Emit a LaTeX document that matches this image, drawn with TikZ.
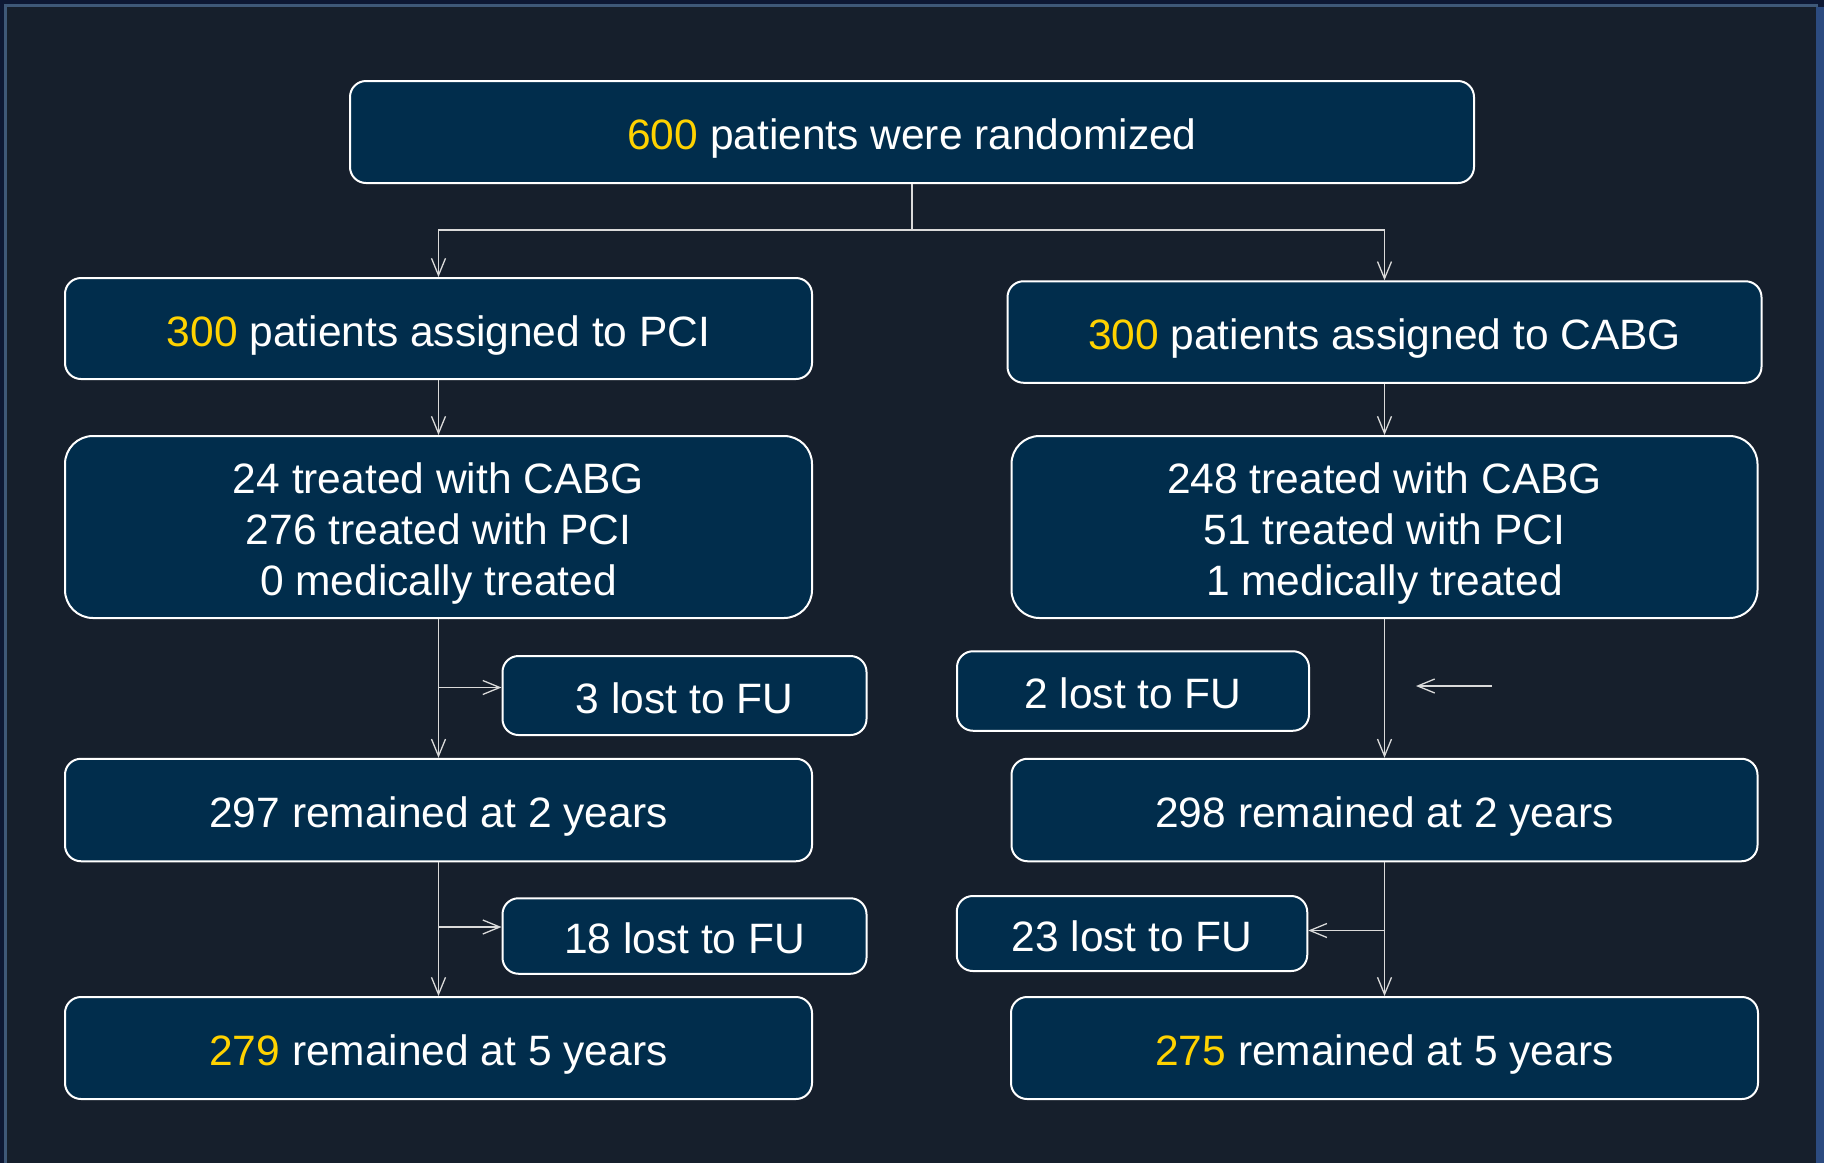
\documentclass[tikz,border=0pt]{standalone}
\usepackage{fontspec}
\setmainfont{Liberation Sans}
\usetikzlibrary{arrows.meta}

\definecolor{bgcol}{HTML}{161F2C}
\definecolor{boxcol}{HTML}{012D4C}
\definecolor{numcol}{HTML}{FFD200}
\definecolor{framelite}{HTML}{3E5878}
\definecolor{framedark}{HTML}{0D1834}
\definecolor{frameblue}{HTML}{2C4B80}
\definecolor{linecol}{HTML}{DADADA}

\newcommand{\yel}[1]{\textcolor{numcol}{#1}}
\newcommand{\topstrut}{\rule{0pt}{44pt}}

\tikzset{
  flowbox/.style={draw=white, line width=2pt, fill=boxcol, rounded corners=16pt,
    text=white, font=\fontsize{42.5}{51}\selectfont, inner sep=0pt, align=center},
  onebox/.style={flowbox, text height=44pt, text depth=9pt},
  conn/.style={draw=linecol, line width=1.3pt},
  arr/.style={conn, -{Straight Barb[length=17pt,width=14pt,line width=1.3pt]}},
}

\begin{document}
\begin{tikzpicture}[x=1pt,y=-1pt]

\useasboundingbox (0,0) rectangle (1824,1163);
\fill[framedark] (0,0) rectangle (1824,1163);
\fill[framelite] (4,4) rectangle (1818,1163);
\fill[frameblue] (1816,7) rectangle (1824,1163);
\fill[bgcol] (7,7) rectangle (1816,1163);

\node[onebox,minimum width=1124pt,minimum height=102pt] (rand) at (912,132) {\yel{600} patients were randomized};

\node[onebox,minimum width=747pt,minimum height=101pt] (pci) at (438.5,328.5) {\yel{300} patients assigned to PCI};
\node[onebox,minimum width=754pt,minimum height=101.5pt] (cabg) at (1384.5,332) {\yel{300} patients assigned to CABG};

\node[flowbox,rounded corners=28pt,minimum width=747pt,minimum height=182pt] (treatpci) at (438.5,527) {\topstrut 24 treated with CABG\\276 treated with PCI\\0 medically treated};
\node[flowbox,rounded corners=28pt,minimum width=746pt,minimum height=182pt] (treatcabg) at (1384.5,527) {\topstrut 248 treated with CABG\\51 treated with PCI\\1 medically treated};

\node[onebox,minimum width=364pt,minimum height=79pt] (lostpcia) at (684.5,695.5) {3 lost to FU};
\node[onebox,minimum width=352pt,minimum height=79.5pt] (lostcabga) at (1133,691) {2 lost to FU};

\node[onebox,minimum width=747pt,minimum height=102.5pt] (remainpcia) at (438.5,810) {297 remained at 2 years};
\node[onebox,minimum width=746pt,minimum height=102.5pt] (remaincabga) at (1384.5,810) {298 remained at 2 years};

\node[onebox,minimum width=364pt,minimum height=75.5pt] (lostpcib) at (684.5,936) {18 lost to FU};
\node[onebox,minimum width=350.5pt,minimum height=75pt] (lostcabgb) at (1132,933.5) {23 lost to FU};

\node[onebox,minimum width=747pt,minimum height=102pt] (remainpcib) at (438.5,1048) {\yel{279} remained at 5 years};
\node[onebox,minimum width=747pt,minimum height=102pt] (remaincabgb) at (1384.5,1048) {\yel{275} remained at 5 years};

\coordinate (split) at (912,230);
\coordinate (forkpcia) at (438.5,687.5);
\coordinate (strayfrom) at (1492,686);
\coordinate (strayto) at (1416,686);
\coordinate (forkpcib) at (438.5,927);
\coordinate (forkcabgb) at (1384.5,930.5);

\draw[conn] (rand) -- (split);
\draw[arr] (split) -| (pci);
\draw[arr] (split) -| (cabg);

\draw[arr] (pci) -- (treatpci);
\draw[arr] (cabg) -- (treatcabg);

\draw[arr] (treatpci) -- (remainpcia);
\draw[arr] (forkpcia) -- (forkpcia -| lostpcia.west);
\draw[arr] (treatcabg) -- (remaincabga);
\draw[arr] (strayfrom) -- (strayto);

\draw[arr] (remainpcia) -- (remainpcib);
\draw[arr] (forkpcib) -- (forkpcib -| lostpcib.west);
\draw[arr] (remaincabga) -- (remaincabgb);
\draw[arr] (forkcabgb) -- (forkcabgb -| lostcabgb.east);

\end{tikzpicture}
\end{document}
